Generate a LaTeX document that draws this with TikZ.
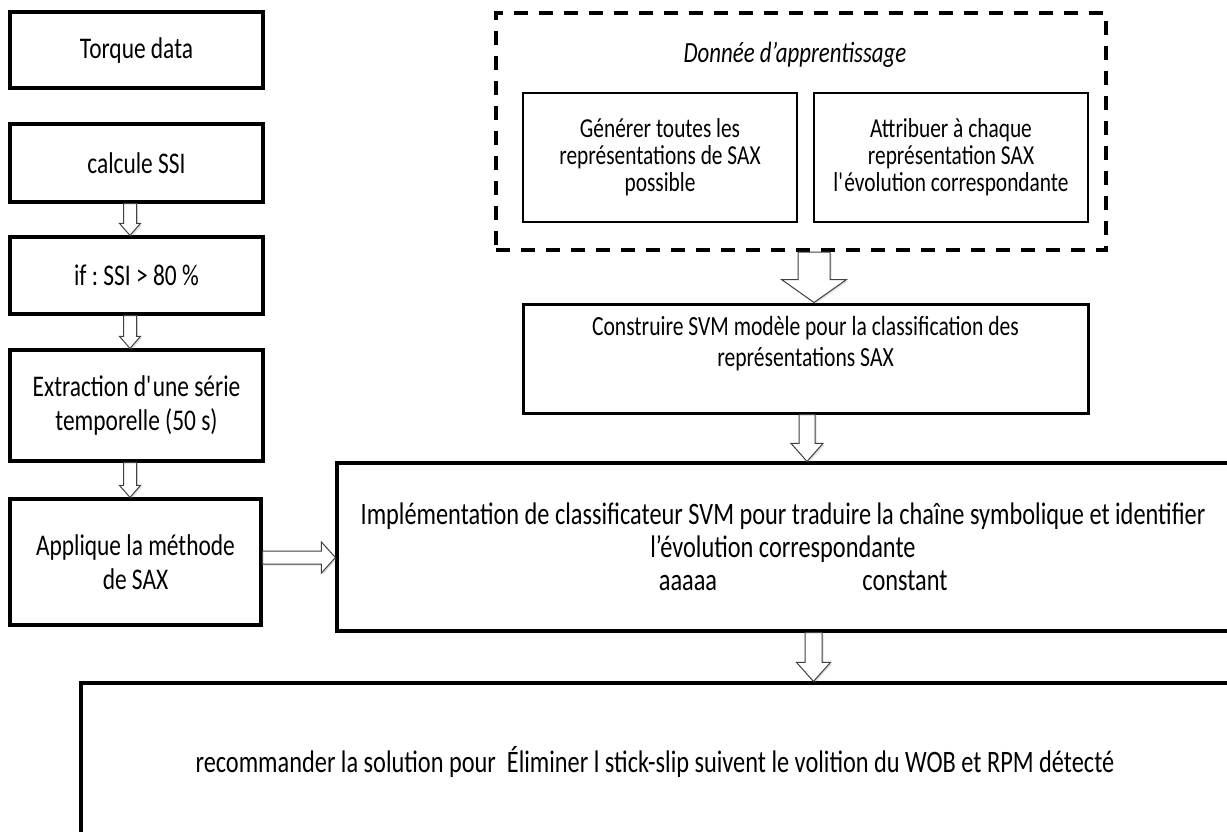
\documentclass[tikz,border=0pt]{standalone}
\usepackage{fontspec}
\setmainfont{Carlito}[FakeStretch=0.78]
\usetikzlibrary{calc,shadows}
\newcommand{\flechebas}[5]{%
  \draw[fleche] ($(#1)+(-#3,0)$) -- ($(#2)+(-#3,-#5)$) -- ($(#2)+(-#4,-#5)$) -- (#2)
    -- ($(#2)+(#4,-#5)$) -- ($(#2)+(#3,-#5)$) -- ($(#1)+(#3,0)$) -- cycle;}
\newcommand{\flechedroite}[5]{%
  \draw[fleche] ($(#1)+(0,-#3)$) -- ($(#2)+(-#5,-#3)$) -- ($(#2)+(-#5,-#4)$) -- (#2)
    -- ($(#2)+(-#5,#4)$) -- ($(#2)+(-#5,#3)$) -- ($(#1)+(0,#3)$) -- cycle;}
\begin{document}
\frenchspacing
\begin{tikzpicture}[x=1pt,y=-1pt,
  boite/.style={draw,line width=3.2pt,minimum width=253pt,align=center,inner sep=0pt,
    font=\fontsize{30}{34}\selectfont},
  petite/.style={draw,line width=2.6pt,minimum width=274pt,minimum height=129pt,align=center,
    inner sep=0pt,font=\fontsize{27.4}{27}\selectfont},
  cadre/.style={draw,line width=4pt,dash pattern=on 14pt off 11pt,minimum width=610pt,
    minimum height=237pt},
  grande/.style={draw,line width=3.2pt,align=center,inner sep=0pt,
    font=\fontsize{31.2}{33}\selectfont},
  fleche/.style={draw=black!75,line width=1pt,fill=white,line join=miter,
    drop shadow={shadow xshift=1.5pt,shadow yshift=-1.5pt,opacity=0.25}}]
\useasboundingbox (0,0) rectangle (1227,831);
\node [boite,minimum height=76pt] (t) at (136.5,50) {Torque data};
\node [boite,minimum height=78pt] (s) at (136.5,163) {calcule SSI};
\node [boite,minimum height=77pt] (f) at (136.5,275.5) {if : SSI > 80 \%};
\node [boite,minimum height=111pt] (e) at (136.5,405.5) {Extraction d\textquotesingle une série\\temporelle (50 s)};
\node [boite,minimum height=126pt,minimum width=251pt] (x) at (135.5,562) {Applique la méthode\\de SAX};
\node [cadre] (d) at (801,131.5) {};
\node [font=\fontsize{29.3}{30}\selectfont\itshape] (dt) at (795,55) {Donnée d’apprentissage};
\node [petite] (g) at (660,157.5) {Générer toutes les\\représentations de SAX\\possible};
\node [petite] (r) at (951,157.5) {Attribuer à chaque\\représentation SAX\\l\textquotesingle évolution correspondante};
\node [draw,line width=3pt,minimum width=565pt,minimum height=109pt] (m) at (805.5,358.5) {};
\node [align=center,font=\fontsize{27.7}{31}\selectfont] (mt) at ($(m.north)+(0,41.5)$)
  {Construire SVM modèle pour la classification des\\représentations SAX};
\node [grande,minimum width=892pt,minimum height=168pt] (i) at (783,547)
  {Implémentation de classificateur SVM pour traduire la chaîne symbolique et identifier\\
   l’évolution correspondante\\
   \hspace*{-95pt}\makebox[0pt]{aaaaa}\hspace*{217pt}\makebox[0pt]{constant}\hspace*{-122pt}};
\node [grande,minimum width=1148pt,minimum height=158pt] (w) at (655,762)
  {recommander la solution pour~ Éliminer l stick-slip suivent le volition du WOB et RPM détecté};
\coordinate (cg) at (130,0);
\coordinate (c1) at (814,0);
\coordinate (c2) at (807,0);
\coordinate (c3) at (813.5,0);
\coordinate (hy) at (0,557.5);
\flechebas{s.south -| cg}{f.north -| cg}{6.5}{10.5}{12}
\flechebas{f.south -| cg}{e.north -| cg}{6.5}{10.5}{12}
\flechebas{e.south -| cg}{x.north -| cg}{6.5}{10.5}{12}
\flechedroite{x.east |- hy}{i.west |- hy}{6.5}{15.5}{14}
\flechebas{d.south -| c1}{m.north -| c1}{16}{32.5}{23}
\flechebas{m.south -| c2}{i.north -| c2}{8}{16}{18}
\flechebas{i.south -| c3}{w.north -| c3}{8.5}{17}{19}
\end{tikzpicture}
\end{document}
